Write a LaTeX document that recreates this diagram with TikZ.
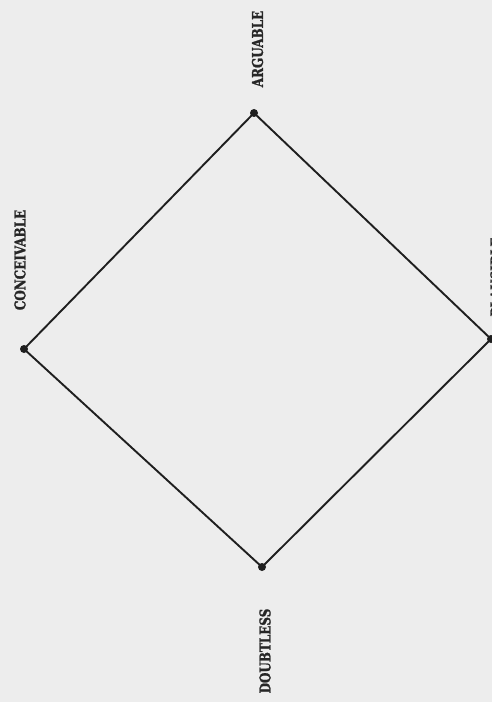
\documentclass[tikz,border=0pt]{standalone}
\usepackage{fontspec}
\newfontfamily\slabfont[FakeStretch=0.8,BoldFeatures={FakeBold=1.2}]{DejaVu Serif}
\begin{document}
\begin{tikzpicture}[x=1bp,y=-1bp,
  dot/.style={circle,fill=black!88,inner sep=0pt,minimum size=8bp},
  lbl/.style={rotate=90,inner sep=0pt,font=\slabfont\bfseries\fontsize{15}{15}\selectfont,text=black!85},
  edge/.style={draw=black!88,line width=1.9bp}]
\fill[black!7] (0,0) rectangle (492,702);
\useasboundingbox (0,0) rectangle (492,702);
\node[dot] (arg) at (254,113) {};
\node[dot] (con) at (24,349) {};
\node[dot] (dou) at (262,567) {};
\node[dot] (pla) at (491,339) {};
\draw[edge] (arg.center) -- (pla.center) -- (dou.center) -- (con.center) -- (arg.center);
\node[lbl] (targ) at (257.5,49) {ARGUABLE};
\node[lbl] (tcon) at (20,260) {CONCEIVABLE};
\node[lbl] (tdou) at (265,651) {DOUBTLESS};
\node[lbl] (tpla) at (496,277) {PLAUSIBLE};
\end{tikzpicture}
\end{document}
